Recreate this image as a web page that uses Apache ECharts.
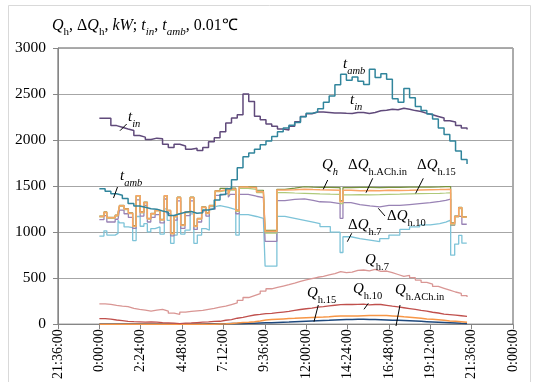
<!DOCTYPE html>
<html><head><meta charset="utf-8">
<script src="https://cdn.jsdelivr.net/npm/echarts@6/dist/echarts.min.js"></script>
<style>html,body{margin:0;padding:0;background:#fff}#c{width:536px;height:382px}</style>
</head><body><div id="c"></div>
<script>
// ---------- data ----------
const xLabels = ['21:36:00','0:00:00','2:24:00','4:48:00','7:12:00','9:36:00','12:00:00','14:24:00','16:48:00','19:12:00','21:36:00','0:00:00'];
const gridTimes = ['0:00','0:20','0:40','1:00','1:20','1:40','2:00','2:20','2:40','3:00','3:20','3:40','4:00','4:20','4:40','5:00','5:20','5:40','6:00','6:20','6:40','7:00','7:20','7:40','8:00','8:20','8:40','9:00','9:20','9:40','10:00','10:20','10:40','11:00','11:20','11:40','12:00','12:20','12:40','13:00','13:20','13:40','14:00','14:20','14:40','15:00','15:20','15:40','16:00','16:20','16:40','17:00','17:20','17:40','18:00','18:20','18:40','19:00','19:20','19:40','20:00','20:20','20:40','21:00','21:20'];
const tIn = [2236,2236,2157,2139,2121,2104,2050,2032,2007,2021,2014,1954,1920,1954,1936,1900,1911,1886,1920,1982,2025,2090,2186,2239,2275,2500,2420,2260,2220,2175,2150,2120,2110,2150,2200,2257,2286,2304,2304,2300,2295,2293,2290,2289,2300,2300,2289,2300,2318,2325,2336,2329,2346,2335,2320,2311,2290,2275,2257,2239,2211,2196,2157,2132,2114];
const tAmb = [1470,1445,1418,1400,1365,1310,1284,1270,1255,1250,1230,1215,1180,1200,1215,1225,1205,1210,1240,1255,1350,1410,1470,1570,1700,1820,1860,1900,1950,1990,2040,2090,2130,2160,2190,2254,2290,2305,2340,2410,2480,2600,2715,2650,2686,2639,2604,2768,2680,2721,2661,2450,2411,2561,2460,2364,2320,2282,2230,2130,2061,1989,1880,1790,1740];
const qh7 = [221,215,204,196,190,171,161,154,143,154,161,143,120,107,132,139,145,150,161,171,185,196,214,232,260,290,311,332,360,385,400,415,430,446,464,482,495,510,520,535,550,571,561,565,585,589,580,596,575,578,560,540,520,530,505,480,455,435,410,390,370,350,335,310,296];
const qh10 = [61,55,46,40,32,28,25,22,25,22,18,15,11,7,11,14,18,22,25,30,32,43,50,65,75,89,100,106,114,118,125,132,139,150,160,168,175,185,192,200,206,212,214,214,216,218,210,214,214,205,196,188,179,170,161,150,143,130,122,110,104,98,92,86,82];
const qh15 = [0,0,0,0,0,0,0,0,0,0,0,0,0,0,0,0,0,0,0,0,3,5,8,12,18,22,28,35,45,50,54,58,61,64,68,71,74,77,79,82,86,89,89,90,90,92,94,96,96,94,90,86,80,75,70,64,58,54,48,42,36,32,27,22,18];
const qhACh = [3,3,3,3,3,3,3,3,3,3,3,3,3,3,3,3,3,3,4,5,5,6,7,8,9,10,11,13,15,17,19,21,23,26,29,32,35,38,41,43,46,48,50,52,54,54,52,50,48,46,44,42,40,37,34,31,28,25,22,19,16,13,10,8,7];

const qTimes = ['0:00','0:16','0:26','0:55','1:05','1:10','1:26','1:41','1:56','2:08','2:22','2:35','2:47','2:59','3:14','3:31','3:46','3:56','4:08','4:20','4:31','4:43','4:58','5:16','5:29','5:41','5:56','6:11','6:23','6:43','7:00','7:29','7:35','7:55','8:07','8:38','9:07','9:31','9:37','10:18','10:46','11:20','11:54','12:24','12:48','13:24','13:58','14:08','14:36','15:07','15:42','16:16','16:48','17:26','18:00','18:35','19:12','19:45','20:06','20:23','20:37','20:51','21:02','21:19'];
const dQACh = [1170,1216,1156,1181,1206,1287,1252,1206,1064,1394,1216,1323,1145,1199,1234,1135,1394,1234,986,1170,1376,1074,1216,1376,1064,1145,1270,1206,1287,1447,1465,1411,1465,1234,1489,1482,1440,1420,1010,1457,1460,1465,1462,1460,1458,1455,1330,1455,1450,1452,1450,1455,1453,1455,1458,1460,1462,1464,1466,1093,1171,1264,1164,1164];
const qh = [1175,1220,1160,1185,1210,1290,1255,1210,1070,1398,1220,1327,1150,1203,1238,1140,1398,1238,990,1175,1380,1078,1220,1380,1068,1150,1274,1210,1292,1452,1475,1420,1478,1240,1495,1490,1455,1438,1020,1465,1478,1493,1488,1486,1486,1484,1340,1484,1486,1486,1484,1486,1486,1488,1490,1490,1492,1494,1494,1100,1175,1270,1168,1168];
const dQ15 = [1165,1210,1150,1175,1200,1280,1245,1200,1060,1390,1210,1318,1140,1195,1230,1130,1390,1230,982,1165,1372,1070,1212,1372,1060,1140,1266,1202,1283,1440,1455,1400,1455,1225,1475,1465,1430,1415,990,1430,1425,1422,1418,1415,1412,1410,1310,1405,1408,1405,1407,1410,1412,1415,1418,1420,1422,1425,1428,1080,1165,1255,1160,1160];
const dQ10 = [1135,1180,1110,1140,1160,1240,1200,1160,1040,1350,1175,1290,1110,1160,1190,1100,1360,1200,960,1130,1340,1040,1180,1340,1030,1110,1230,1175,1250,1400,1420,1380,1410,1200,1411,1390,1376,1360,900,1343,1355,1361,1345,1330,1325,1310,1150,1320,1300,1285,1275,1290,1290,1300,1310,1320,1335,1345,1360,1075,1171,1171,1086,1086];
const dQ7 = [957,1014,968,986,1128,1100,1057,1050,908,1170,1064,1092,1004,1039,1057,979,1252,1128,879,968,1199,979,1021,1199,879,968,1039,1021,1277,1287,1270,1250,1245,968,1191,1170,1150,1130,630,1171,1150,1129,1110,1093,1060,1000,779,950,930,914,896,930,968,1030,1058,1080,1093,1110,1130,750,870,965,880,880];

// ---------- helpers ----------
const F = 'Liberation Serif';
const toH = s => { const p = s.split(':').map(Number); return p[0] + p[1] / 60; };
const pairs = (times, vals) => times.map((t, i) => [toH(t), vals[i]]);
const ser = (name, times, vals, color, w) => ({
  name, type: 'line', step: 'end', showSymbol: false, symbol: 'none',
  data: pairs(times, vals), lineStyle: { color, width: w }, itemStyle: { color }, z: 3
});

const mkRich = (big, small) => ({
  r: { fontFamily: F, fontSize: big, lineHeight: 20, verticalAlign: 'top', fill: '#000', color: '#000' },
  i: { fontFamily: F, fontSize: big, fontStyle: 'italic', lineHeight: 20, verticalAlign: 'top', fill: '#000', color: '#000' },
  s: { fontFamily: F, fontSize: small, lineHeight: 12, verticalAlign: 'bottom', fill: '#000', color: '#000' },
  si: { fontFamily: F, fontSize: small, fontStyle: 'italic', lineHeight: 12, verticalAlign: 'bottom', fill: '#000', color: '#000' }
});
const rich = mkRich(15, 10.5);
const richTitle = mkRich(16, 11);
const txt = (x, y, text, rs) => ({ type: 'text', x, y, silent: true, z: 10,
  style: { text, rich: rs || rich, align: 'left', verticalAlign: 'middle', fill: '#000' } });
const ln = (x1, y1, x2, y2) => ({ type: 'line', silent: true, z: 10,
  shape: { x1, y1, x2, y2 }, style: { stroke: '#000', lineWidth: 1 } });

const chart = echarts.init(document.getElementById('c'), null, { renderer: 'canvas' });
chart.setOption({
  animation: false,
  backgroundColor: '#fff',
  grid: { left: 58, top: 48, width: 455, height: 280, show: true, borderColor: '#595959', borderWidth: 1 },
  xAxis: {
    type: 'value', min: -2.4, max: 24, interval: 2.4,
    axisLine: { show: true, onZero: false, lineStyle: { color: '#868686' } },
    axisTick: { show: true, length: 5, lineStyle: { color: '#868686' } },
    splitLine: { show: false },
    axisLabel: { rotate: 90, margin: 5, fontFamily: F, fontSize: 14, color: '#000',
      formatter: v => xLabels[Math.round((v + 2.4) / 2.4)] }
  },
  yAxis: {
    type: 'value', min: 0, max: 3000, interval: 500,
    axisLine: { show: true, onZero: false, lineStyle: { color: '#868686' } },
    axisTick: { show: true, length: 5, lineStyle: { color: '#868686' } },
    splitLine: { lineStyle: { color: '#a6a6a6' } },
    axisLabel: { margin: 12, fontFamily: F, fontSize: 15.5, color: '#000', formatter: v => String(v) }
  },
  series: [
    ser('Q_h.ACh.in', gridTimes, qhACh, '#1F497D', 1.5),
    ser('Q_h.15', gridTimes, qh15, '#F79646', 1.5),
    ser('Q_h.10', gridTimes, qh10, '#C0504D', 1.3),
    ser('Q_h.7', gridTimes, qh7, '#D99694', 1.3),
    ser('dQ_h.7', qTimes, dQ7, '#7DC3D8', 1.3),
    ser('dQ_h.10', qTimes, dQ10, '#9983B5', 1.3),
    ser('Q_h', qTimes, qh, '#77933C', 1.2),
    ser('dQ_h.15', qTimes, dQ15, '#AFC97A', 1.2),
    ser('dQ_h.ACh.in', qTimes, dQACh, '#F9A465', 1.5),
    ser('t_in', gridTimes, tIn, '#604A7B', 1.5),
    ser('t_amb', gridTimes, tAmb, '#31859C', 1.5)
  ],
  graphic: [
    { type: 'rect', silent: true, shape: { x: 8.5, y: 5.5, width: 522, height: 400 }, style: { fill: null, stroke: '#d9d9d9', lineWidth: 1 } },
    txt(52, 28, '{i|Q}{s|h}{r|, Δ}{i|Q}{s|h}{r|, }{i|kW}{r|; }{i|t}{si|in}{r|, }{i|t}{si|amb}{r|, 0.01℃}', richTitle),
    txt(128, 120, '{i|t}{si|in}'), ln(126.7, 124, 120, 130.7),
    txt(120, 179, '{i|t}{si|amb}'), ln(117.5, 187, 113.5, 198),
    txt(343, 67, '{i|t}{si|amb}'),
    txt(350, 103, '{i|t}{si|in}'),
    txt(322, 168, '{i|Q}{si|h}'), ln(327.7, 180, 323.3, 189.3),
    txt(348, 168, '{r|Δ}{i|Q}{s|h.ACh.in}'), ln(372.7, 178.3, 366, 192.7),
    txt(417, 168, '{r|Δ}{i|Q}{s|h.15}'), ln(423.3, 178.3, 415.7, 193.3),
    txt(387, 219, '{r|Δ}{i|Q}{s|h.10}'), ln(385, 216, 378.3, 208.3),
    txt(348, 228, '{r|Δ}{i|Q}{s|h.7}'), ln(351.7, 233.3, 347.3, 241.7),
    txt(365, 263, '{i|Q}{s|h.7}'),
    txt(307, 296, '{i|Q}{s|h.15}'), ln(318.3, 305, 314, 321.7),
    txt(353, 292, '{i|Q}{s|h.10}'), ln(368.3, 303.3, 364, 309.3),
    txt(395, 293, '{i|Q}{s|h.ACh.in}'), ln(400, 305, 396, 326)
  ]
});
</script></body></html>
